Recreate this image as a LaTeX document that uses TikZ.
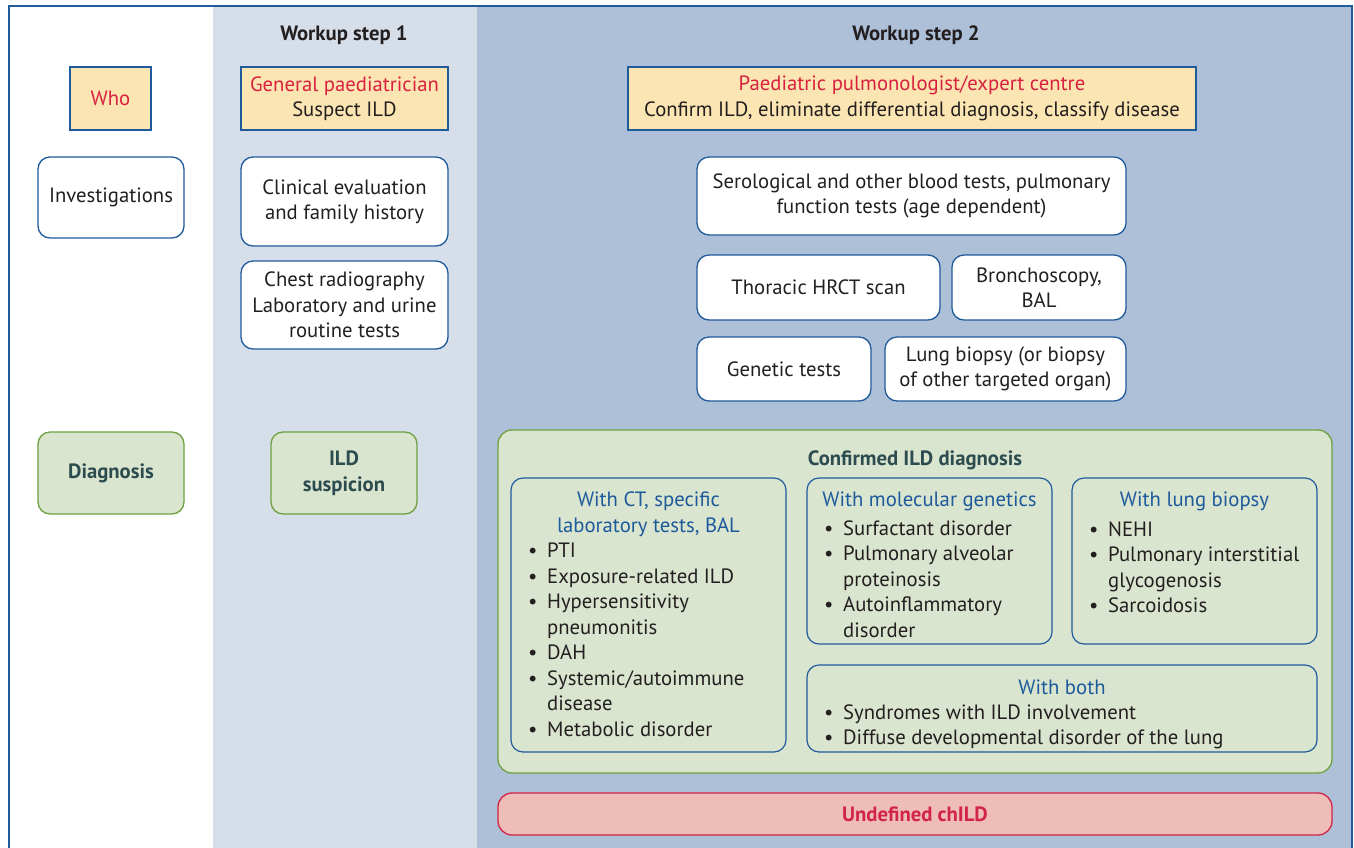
\documentclass[tikz,border=0pt]{standalone}
\usepackage{fontspec}
\setmainfont{PT Sans}
\usetikzlibrary{positioning}
\definecolor{frameblue}{RGB}{31,90,155}
\definecolor{stepone}{RGB}{214,222,234}
\definecolor{steptwo}{RGB}{174,191,216}
\definecolor{whoyellow}{RGB}{251,229,178}
\definecolor{whored}{RGB}{217,33,63}
\definecolor{textdark}{RGB}{35,31,32}
\definecolor{diagfill}{RGB}{218,229,207}
\definecolor{diaggreen}{RGB}{111,160,66}
\definecolor{diagtext}{RGB}{45,76,79}
\definecolor{titleblue}{RGB}{29,90,155}
\definecolor{undeffill}{RGB}{238,189,184}
\definecolor{undefred}{RGB}{210,36,70}
\newcommand{\bodyfont}{\fontsize{20.7}{25.5}\selectfont}
\newcommand{\bul}{\makebox[19pt][l]{\textbullet}}
\newcommand{\hang}{\hspace*{19pt}}
\tikzset{
    wh/.style 2 args = {minimum width=#1, minimum height=#2},
    header/.style = {font=\bodyfont\bfseries, inner sep=0pt},
    whobox/.style = {rectangle, draw=frameblue, line width=1.3pt, fill=whoyellow, align=center, inner sep=0pt},
    testbox/.style = {rectangle, rounded corners=12pt, draw=frameblue, line width=1.3pt, fill=white, align=center, inner sep=0pt},
    diagbox/.style = {rectangle, rounded corners=12pt, draw=diaggreen, line width=1.3pt, fill=diagfill, align=center, inner sep=0pt, text=diagtext, font=\bodyfont\bfseries},
    subbox/.style = {rectangle, rounded corners=12pt, draw=frameblue, line width=1.2pt, fill=diagfill, inner sep=0pt},
    subtitle/.style = {align=center, text=titleblue, inner sep=0pt},
    sublist/.style = {align=left, anchor=north west, inner sep=0pt},
    undefbox/.style = {rectangle, rounded corners=14pt, draw=undefred, line width=1.3pt, fill=undeffill, text=undefred, font=\bodyfont\bfseries, inner sep=0pt}
}
\begin{document}
\begin{tikzpicture}[x=1pt, y=-1pt, font=\bodyfont, text=textdark]
  \useasboundingbox (0,0) rectangle (1354,847);
  % columns and frame
  \fill[stepone] (213,6) rectangle (477,860);
  \fill[steptwo] (477,6) rectangle (1352,860);
  \draw[frameblue, line width=2pt] (9,860) -- (9,6) -- (1352,6) -- (1352,860);

  \node[header] (step1) at (344,35) {Workup step 1};
  \node[header] (step2) at (916,35) {Workup step 2};

  % who
  \node[whobox, wh={81pt}{63pt}, text=whored] (who) at (110.5,98.5) {Who};
  \node[whobox, wh={207pt}{63pt}] (gp) at (344.5,98.5) {\textcolor{whored}{General paediatrician}\\Suspect ILD};
  \node[whobox, wh={568pt}{63pt}] (expert) at (912,98.5) {\textcolor{whored}{Paediatric pulmonologist/expert centre}\\Confirm ILD, eliminate differential diagnosis, classify disease};

  % investigations
  \node[testbox, wh={146pt}{81pt}] (invest) at (111,197.5) {Investigations};
  \node[testbox, wh={207pt}{89pt}] (clinical) at (344.5,201.5) {Clinical evaluation\\and family history};
  \node[testbox, wh={207pt}{88pt}] (chest) at (344.5,305) {Chest radiography\\Laboratory and urine\\routine tests};
  \node[testbox, wh={429pt}{78pt}] (sero) at (911.5,196) {Serological and other blood tests, pulmonary\\function tests (age dependent)};
  \node[testbox, wh={243pt}{65pt}] (hrct) at (818.5,287.5) {Thoracic HRCT scan};
  \node[testbox, wh={174pt}{65pt}] (broncho) at (1039,287.5) {Bronchoscopy,\\BAL};
  \node[testbox, wh={174pt}{64pt}] (genetic) at (784,369) {Genetic tests};
  \node[testbox, wh={241pt}{64pt}] (biopsy) at (1005.5,369) {Lung biopsy (or biopsy\\of other targeted organ)};

  % diagnosis
  \node[diagbox, wh={146pt}{82pt}] (diag) at (111,473) {Diagnosis};
  \node[diagbox, wh={146pt}{82pt}] (suspicion) at (344,473) {ILD\\suspicion};
  \node[diagbox, wh={834pt}{343pt}, rounded corners=14pt] (confirmed) at (915,601.5) {};
  \node[header, text=diagtext] (conftitle) at (915,460) {Confirmed ILD diagnosis};

  \node[subbox, wh={275pt}{274pt}] (ct) at (648.5,615) {};
  \node[subtitle] (cttitle) at (648.5,514) {With CT, specific\\laboratory tests, BAL};
  \node[sublist] (ctlist) at (528,543) {\bul PTI\\\bul Exposure-related ILD\\\bul Hypersensitivity\\\hang pneumonitis\\\bul DAH\\\bul Systemic/autoimmune\\\hang disease\\\bul Metabolic disorder};

  \node[subbox, wh={245pt}{166pt}] (mol) at (929.5,561) {};
  \node[subtitle] (moltitle) at (929.5,501.5) {With molecular genetics};
  \node[sublist] (mollist) at (824,520.5) {\bul Surfactant disorder\\\bul Pulmonary alveolar\\\hang proteinosis\\\bul Autoinflammatory\\\hang disorder};

  \node[subbox, wh={245pt}{166pt}] (bio) at (1194.5,561) {};
  \node[subtitle] (biotitle) at (1194.5,501.5) {With lung biopsy};
  \node[sublist] (biolist) at (1089,521.5) {\bul NEHI\\\bul Pulmonary interstitial\\\hang glycogenosis\\\bul Sarcoidosis};

  \node[subbox, wh={510pt}{87pt}] (both) at (1062,708.5) {};
  \node[subtitle] (bothtitle) at (1062,687.5) {With both};
  \node[sublist] (bothlist) at (824,704.5) {\bul Syndromes with ILD involvement\\\bul Diffuse developmental disorder of the lung};

  \node[undefbox, wh={834pt}{42pt}] (undef) at (915,814) {Undefined chILD};
\end{tikzpicture}
\end{document}
